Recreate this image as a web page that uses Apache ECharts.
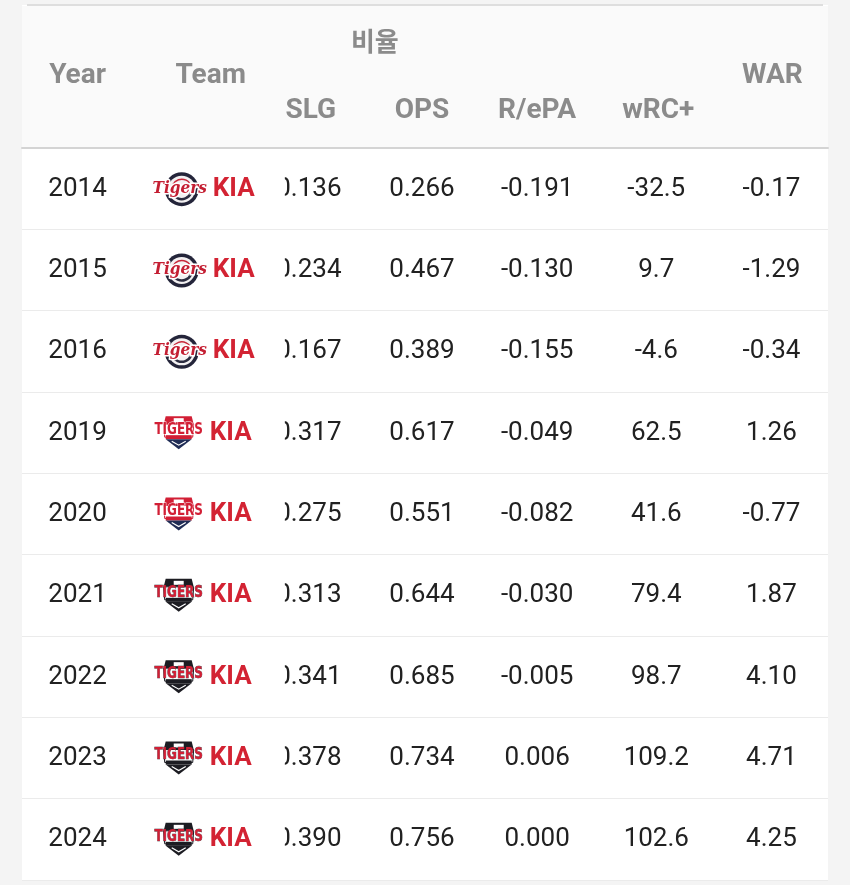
<!DOCTYPE html>
<html>
<head>
<meta charset="utf-8">
<script src="https://cdn.jsdelivr.net/npm/echarts@6/dist/echarts.min.js"></script>
<style>
html,body{margin:0;padding:0;background:#f4f4f4;}
#chart{width:850px;height:885px;}
</style>
</head>
<body>
<div id="chart"></div>
<script>
// ---- data ----
const columns = ['Year', 'Team', 'SLG', 'OPS', 'R/ePA', 'wRC+', 'WAR'];
const groupHeader = '비율';
const years = ['2014', '2015', '2016', '2019', '2020', '2021', '2022', '2023', '2024'];
const teams = ['KIA', 'KIA', 'KIA', 'KIA', 'KIA', 'KIA', 'KIA', 'KIA', 'KIA'];
const logoEra = ['classic', 'classic', 'classic', 'red', 'red', 'black', 'black', 'black', 'black'];
const slg = [0.136, 0.234, 0.167, 0.317, 0.275, 0.313, 0.341, 0.378, 0.390];
const ops = [0.266, 0.467, 0.389, 0.617, 0.551, 0.644, 0.685, 0.734, 0.756];
const rePA = [-0.191, -0.130, -0.155, -0.049, -0.082, -0.030, -0.005, 0.006, 0.000];
const wrcPlus = [-32.5, 9.7, -4.6, 62.5, 41.6, 79.4, 98.7, 109.2, 102.6];
const war = [-0.17, -1.29, -0.34, 1.26, -0.77, 1.87, 4.10, 4.71, 4.25];

const cellText = [
  r => years[r],
  r => teams[r],
  r => slg[r].toFixed(3),
  r => ops[r].toFixed(3),
  r => rePA[r].toFixed(3),
  r => wrcPlus[r].toFixed(1),
  r => war[r].toFixed(2)
];

const cellData = [];
years.forEach((y, r) => columns.forEach((c, ci) => cellData.push([ci, r])));
const headerData = columns.map((c, ci) => [ci, 0]);

const chart = echarts.init(document.getElementById('chart'));

function txt(x, y, text, o) {
  return {
    type: 'text', x: x, y: y,
    style: Object.assign({
      text: text, fill: '#212121', fontSize: 26, fontFamily: 'Roboto',
      align: 'center', verticalAlign: 'middle',
      textAlign: 'center', textVerticalAlign: 'middle'
    }, o || {})
  };
}

function classicLogo(x, y) {
  return {
    type: 'group', x: x, y: y,
    children: [
      { type: 'circle', shape: { cx: 2, cy: 1, r: 17 }, style: { fill: '#24253a' } },
      { type: 'circle', shape: { cx: 2, cy: 1, r: 13.5 }, style: { fill: '#f3f1f2' } },
      { type: 'arc', shape: { cx: 2, cy: 1, r: 10, startAngle: 0.4, endAngle: 2.7 }, style: { stroke: '#2b2c40', lineWidth: 2.5, fill: null } },
      { type: 'arc', shape: { cx: 2, cy: 1, r: 10, startAngle: 3.6, endAngle: 5.6 }, style: { stroke: '#c8283a', lineWidth: 1.5, fill: null } },
      { type: 'text', x: 0, y: 0, scaleX: 0.9, style: { text: 'Tigers', fill: '#c41f33', stroke: '#ffffff', lineWidth: 3,
        fontSize: 17, fontWeight: 'bold', fontStyle: 'italic', fontFamily: 'DejaVu Serif',
        align: 'center', verticalAlign: 'middle', textAlign: 'center', textVerticalAlign: 'middle' } }
    ]
  };
}

function shieldLogo(x, y, era) {
  const top = era === 'red' ? '#d21f35' : '#1c1c22';
  const bottom = era === 'red' ? '#1f2c55' : '#1c1c22';
  return {
    type: 'group', x: x, y: y,
    children: [
      { type: 'polygon', shape: { points: [[-13, -16], [13, -16], [15, -8], [-15, -8]] }, style: { fill: top } },
      { type: 'rect', shape: { x: -5, y: -14, width: 10, height: 4 }, style: { fill: '#ffffff' } },
      { type: 'polygon', shape: { points: [[-15, -8], [15, -8], [14, 5], [-14, 5]] }, style: { fill: '#ffffff', stroke: top, lineWidth: 1 } },
      { type: 'rect', shape: { x: -13, y: 3, width: 26, height: 4 }, style: { fill: top } },
      { type: 'polygon', shape: { points: [[-13, 7], [13, 7], [0, 17]] }, style: { fill: bottom } },
      { type: 'polyline', shape: { points: [[-7, 9], [0, 13], [7, 9]] }, style: { stroke: '#ffffff', lineWidth: 1.2, fill: null } },
      { type: 'text', x: 0, y: -2, scaleX: 0.8, style: { text: 'TIGERS', fill: '#d21f35', stroke: era === 'red' ? '#ffffff' : '#2a2a30', lineWidth: era === 'red' ? 1 : 0.6,
        fontSize: 15, fontWeight: 'bold', fontFamily: 'DejaVu Sans',
        align: 'center', verticalAlign: 'middle', textAlign: 'center', textVerticalAlign: 'middle' } }
    ]
  };
}

function renderCell(params, api) {
  const ci = api.value(0), r = api.value(1);
  const p = api.coord([ci, r]);
  const x = p[0], y = p[1] + 0.5;
  const size = api.size([1, 1]);
  if (columns[ci] === 'Team') {
    const classic = logoEra[r] === 'classic';
    return {
      type: 'group',
      children: [
        classic ? classicLogo(x - 15, y - 1) : shieldLogo(x - 16, y - 1, logoEra[r]),
        txt(x + (classic ? 39 : 36), y, teams[r], { fill: '#d32333', fontWeight: 'bold' })
      ]
    };
  }
  if (columns[ci] === 'SLG') {
    return {
      type: 'group',
      clipPath: { type: 'rect', shape: { x: x - 25, y: y - size[1] / 2, width: size[0], height: size[1] } },
      children: [txt(x - 1, y, cellText[ci](r))]
    };
  }
  let dx = 0;
  if (columns[ci] === 'Year') dx = -2;
  if (columns[ci] === 'OPS' || columns[ci] === 'R/ePA') dx = -3;
  if (columns[ci] === 'wRC+') dx = 1;
  if (columns[ci] === 'WAR') dx = 1;
  return txt(x + dx, y, cellText[ci](r));
}

function renderHeader(params, api) {
  const ci = api.value(0);
  const p = api.coord([ci, 0]);
  const name = columns[ci];
  const upper = (name === 'Year' || name === 'Team' || name === 'WAR');
  let dx = 0;
  if (name === 'Year') dx = -2;
  if (name === 'Team') dx = 16;
  if (name === 'SLG') dx = 1;
  if (name === 'OPS' || name === 'R/ePA') dx = -3;
  if (name === 'wRC+') dx = 3;
  if (name === 'WAR') dx = 2;
  const hy = upper ? 76 : 111;
  const children = [txt(p[0] + dx, hy, name, { fill: '#8b8b8b', fontWeight: 'bold', fontSize: 28 })];
  if (name === 'SLG') {
    children.push(txt(p[0] + 65, 41, groupHeader, { fill: '#8b8b8b', fontWeight: 'bold', fontSize: 26, fontFamily: 'Noto Sans CJK KR' }));
  }
  return { type: 'group', children: children };
}

chart.setOption({
  backgroundColor: '#f4f4f4',
  animation: false,
  graphic: [
    { type: 'rect', z: -10, shape: { x: 22, y: 5, width: 806, height: 875 }, style: { fill: '#ffffff' } },
    { type: 'rect', z: -9, shape: { x: 22, y: 6, width: 806, height: 142 }, style: { fill: '#fafafa' } },
    { type: 'rect', z: -8, shape: { x: 27, y: 4, width: 796, height: 2 }, style: { fill: '#dedede' } }
  ],
  grid: { left: 22, right: 22, top: 148, bottom: 5 },
  xAxis: {
    type: 'category', data: columns, position: 'top',
    axisLine: { show: true, lineStyle: { color: '#d4d4d4', width: 2 } },
    axisTick: { show: false }, axisLabel: { show: false }, splitLine: { show: false }
  },
  yAxis: {
    type: 'category', data: years, inverse: true,
    axisLine: { show: false }, axisTick: { show: false }, axisLabel: { show: false },
    splitLine: { show: true, lineStyle: { color: '#ebebeb', width: 1 } }
  },
  series: [
    { type: 'custom', name: 'cells', renderItem: renderCell, data: cellData, silent: true },
    { type: 'custom', name: 'header', renderItem: renderHeader, data: headerData, silent: true, clip: false }
  ]
});
</script>
</body>
</html>
